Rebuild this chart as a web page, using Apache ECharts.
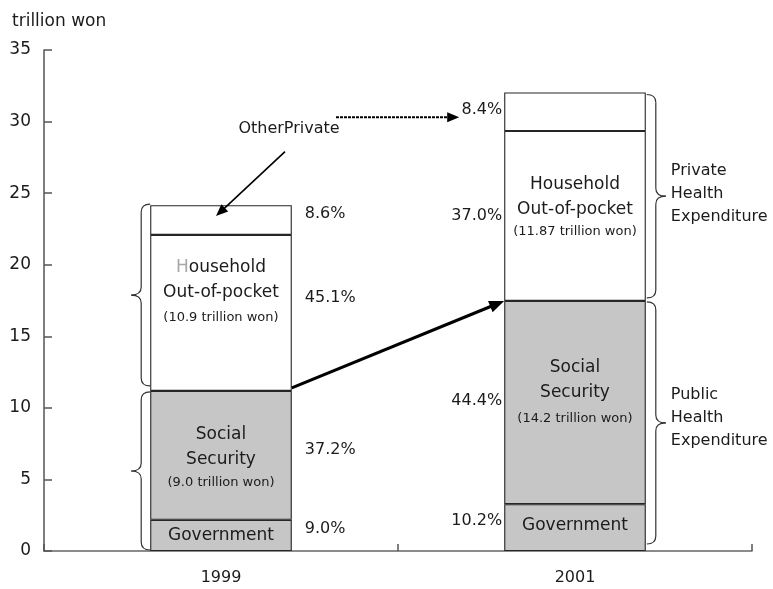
<!DOCTYPE html>
<html><head><meta charset="utf-8">
<script src="https://cdn.jsdelivr.net/npm/echarts@6/dist/echarts.min.js"></script>
<style>html,body{margin:0;padding:0;background:#fff}#c{width:773px;height:589px}</style>
</head><body><div id="c"></div>
<script>
// ---- data ----
const categories = ['1999', '2001'];
const government = [2.18, 3.27];
const socialSecurity = [9.0, 14.2];
const household = [10.9, 11.87];
const otherPrivate = [2.08, 2.69];
const governmentShare = ['9.0%', '10.2%'];
const socialSecurityShare = ['37.2%', '44.4%'];
const householdShare = ['45.1%', '37.0%'];
const otherPrivateShare = ['8.6%', '8.4%'];
const socialSecurityAmount = ['9.0', '14.2'];
const householdAmount = ['10.9', '11.87'];
const yMin = 0, yMax = 35, yInterval = 5;
const yAxisName = 'trillion won';
const annotationOther = 'OtherPrivate';
const privateLabel = 'Private\nHealth\nExpenditure';
const publicLabel = 'Public\nHealth\nExpenditure';

// ---- styles ----
const FONT = 'DejaVu Sans';
const TXT = '#1b1b1b';
const GRAY = '#c6c6c6';
const EDGE = '#262626';
const hhOffset = [[0, -20], [0, -9]];
const ssOffset = [[0, 2], [0, -9]];
const govOffset = [[0, 0], [0, -2]];

const barStyle = fill => ({ color: fill, borderColor: EDGE, borderWidth: 1.1 });
const rich = {
  m: { fontSize: 17, fontFamily: FONT, color: TXT, lineHeight: 25 },
  g: { fontSize: 17, fontFamily: FONT, color: '#a8a8a8', lineHeight: 25 },
  s: { fontSize: 13, fontFamily: FONT, color: TXT, lineHeight: 26 },
  t: { fontSize: 13, fontFamily: FONT, color: TXT, lineHeight: 20 }
};

const option = {
  animation: false,
  backgroundColor: '#fff',
  title: { text: yAxisName, left: 7, top: 8, textStyle: { fontSize: 17, fontWeight: 'normal', fontFamily: FONT, color: TXT } },
  grid: { left: 44, right: 21, top: 50, bottom: 38, containLabel: false },
  xAxis: {
    type: 'category', data: categories,
    axisLine: { lineStyle: { color: '#666', width: 1.5 } },
    axisTick: { show: true, inside: true, length: 7, lineStyle: { color: '#555', width: 1.5 } },
    axisLabel: { fontSize: 16, fontFamily: FONT, color: TXT, margin: 19 },
    splitLine: { show: false }
  },
  yAxis: {
    type: 'value', min: yMin, max: yMax, interval: yInterval,
    axisLine: { show: true, lineStyle: { color: '#555', width: 1.5 } },
    axisTick: { show: true, inside: true, length: 8, lineStyle: { color: '#555', width: 1.5 } },
    axisLabel: { fontSize: 17, fontFamily: FONT, color: TXT, margin: 13 },
    splitLine: { show: false }
  },
  series: [
    {
      name: 'Government', type: 'bar', stack: 'total', barWidth: '40%',
      itemStyle: barStyle(GRAY),
      label: { show: true, position: 'inside', fontSize: 17, fontFamily: FONT, color: TXT },
      data: government.map((v, i) => ({ value: v, label: { formatter: 'Government', offset: govOffset[i] } }))
    },
    {
      name: 'Social Security', type: 'bar', stack: 'total', barWidth: '40%',
      itemStyle: barStyle(GRAY),
      label: { show: true, position: 'inside', rich: rich },
      data: socialSecurity.map((v, i) => ({ value: v, label: {
        formatter: '{m|Social}\n{m|Security}\n{' + (i === 0 ? 't' : 's') + '|(' + socialSecurityAmount[i] + ' trillion won)}',
        offset: ssOffset[i] } }))
    },
    {
      name: 'Household Out-of-pocket', type: 'bar', stack: 'total', barWidth: '40%',
      itemStyle: barStyle('#fff'),
      label: { show: true, position: 'inside', rich: rich },
      data: household.map((v, i) => ({ value: v, label: {
        formatter: (i === 0 ? '{g|H}{m|ousehold}' : '{m|Household}') + '\n{m|Out-of-pocket}\n{' + (i === 0 ? 's' : 't') + '|(' + householdAmount[i] + ' trillion won)}',
        offset: hhOffset[i] } }))
    },
    {
      name: 'Other Private', type: 'bar', stack: 'total', barWidth: '40%',
      itemStyle: barStyle('#fff'),
      label: { show: false },
      data: otherPrivate.slice()
    }
  ]
};

const chart = echarts.init(document.getElementById('c'));
chart.setOption(option);

function px(ci, v) { return chart.convertToPixel({ xAxisIndex: 0, yAxisIndex: 0 }, [ci, v]); }
const band = px(1, 0)[0] - px(0, 0)[0];
const half = band * 0.2;
const gfx = [];

function text(x, y, str, align, extra) {
  gfx.push({ type: 'text', x: x, y: y, silent: true, z: 100,
    style: Object.assign({ text: str, fill: TXT, fontSize: 16, fontFamily: FONT, align: align, verticalAlign: 'middle' }, extra || {}) });
}
const braceStyle = { stroke: '#333', fill: null, lineWidth: 1.2 };
function seg(x1, y1, x2, y2) {
  gfx.push({ type: 'line', silent: true, z: 100, shape: { x1: x1, y1: y1, x2: x2, y2: y2 }, style: braceStyle });
}
function quad(x1, y1, cx, cy, x2, y2) {
  gfx.push({ type: 'bezierCurve', silent: true, z: 100, shape: { x1: x1, y1: y1, cpx1: cx, cpy1: cy, x2: x2, y2: y2 }, style: braceStyle });
}
function brace(x0, y1, y2, dir) {
  // dir = -1 tip to the left, +1 tip to the right
  const xv = x0 + dir * 9, xt = x0 + dir * 19, r = 8, ym = (y1 + y2) / 2;
  quad(x0, y1, xv, y1, xv, y1 + r);
  seg(xv, y1 + r, xv, ym - r);
  quad(xv, ym - r, xv, ym, xt, ym);
  quad(xt, ym, xv, ym, xv, ym + r);
  seg(xv, ym + r, xv, y2 - r);
  quad(xv, y2 - r, xv, y2, x0, y2);
}
function arrow(x1, y1, x2, y2, w, hl, hw, dash) {
  const a = Math.atan2(y2 - y1, x2 - x1), c = Math.cos(a), s = Math.sin(a);
  const bx = x2 - hl * c, by = y2 - hl * s;
  gfx.push({ type: 'line', silent: true, z: 100, shape: { x1: x1, y1: y1, x2: bx + c, y2: by + s },
    style: { stroke: '#000', lineWidth: w, lineDash: dash || null } });
  gfx.push({ type: 'polygon', silent: true, z: 100, shape: { points: [[x2, y2], [bx - hw * s, by + hw * c], [bx + hw * s, by - hw * c]] },
    style: { fill: '#000' } });
}

const pctNudge = [[-7, -6, -15, -6], [-7, -2, 0, -2]]; // gov, ss, hh, other
const shares = [governmentShare, socialSecurityShare, householdShare, otherPrivateShare];
const tops = categories.map((c, i) => {
  const g = government[i], s = g + socialSecurity[i], h = s + household[i], t = h + otherPrivate[i];
  return [0, g, s, h, t];
});
categories.forEach((c, i) => {
  const cx = px(i, 0)[0];
  const segs = tops[i];
  for (let k = 0; k < 4; k++) {
    const ym = (px(i, segs[k])[1] + px(i, segs[k + 1])[1]) / 2 + pctNudge[i][k];
    if (i === 0) text(cx + half + 13, ym, shares[k][i], 'left');
    else text(cx - half - 2, ym, shares[k][i], 'right');
  }
});

// braces
const c0 = px(0, 0)[0], c1 = px(1, 0)[0];
const y0 = px(0, 0)[1];
brace(c0 - half, px(0, tops[0][4])[1] - 1, px(0, tops[0][2])[1] - 5, -1);
brace(c0 - half, px(0, tops[0][2])[1] + 1, y0 - 1, -1);
brace(c1 + half + 1, px(1, tops[1][4])[1] + 2, px(1, tops[1][2])[1] - 3, 1);
brace(c1 + half + 1, px(1, tops[1][2])[1] + 1, y0 - 7, 1);
const pTop = (px(1, tops[1][4])[1] + px(1, tops[1][2])[1]) / 2;
const qTop = (px(1, tops[1][2])[1] + y0) / 2;
text(c1 + half + 25, pTop - 3, privateLabel, 'left', { lineHeight: 23 });
text(c1 + half + 25, qTop - 8, publicLabel, 'left', { lineHeight: 23 });

// arrows and annotation
const ssTop0 = px(0, tops[0][2]), ssTop1 = px(1, tops[1][2]);
arrow(c0 + half, ssTop0[1] - 3, c1 - half, ssTop1[1], 3, 15, 6);
const otherMid0 = (px(0, tops[0][3])[1] + px(0, tops[0][4])[1]) / 2;
text(c0 + 68, px(0, 29.5)[1], annotationOther, 'center');
arrow(c0 + 64, px(0, 27.9)[1], c0 - 5, otherMid0 - 4, 1.6, 12, 5);
arrow(c0 + 115, px(0, 30.3)[1], c1 - half - 45, px(0, 30.3)[1], 2, 12, 5, [3, 1]);

chart.setOption({ graphic: { elements: gfx } });
</script></body></html>
